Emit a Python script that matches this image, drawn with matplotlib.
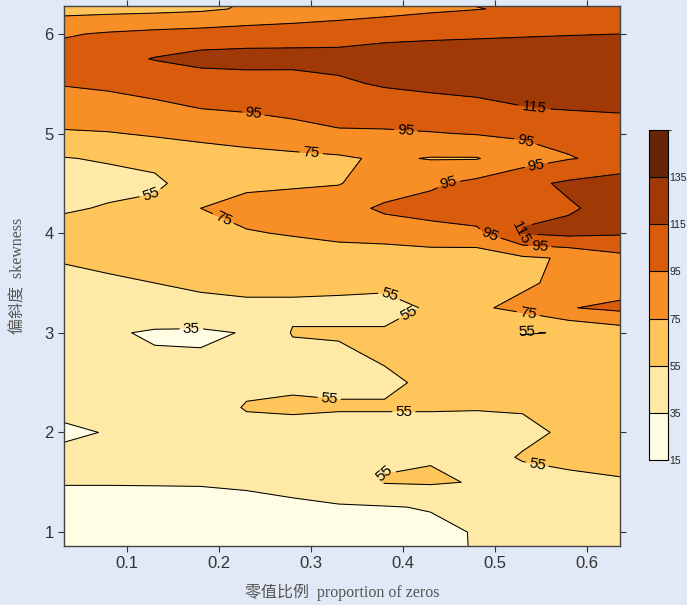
import numpy as np
import matplotlib
matplotlib.use('Agg')
import matplotlib.pyplot as plt
from matplotlib.colors import ListedColormap, BoundaryNorm

# --- 数据：网格坐标（零值比例 × 偏斜度）---
prop_zeros = [0.03, 0.08, 0.13, 0.18, 0.23, 0.28, 0.33, 0.38, 0.43, 0.48, 0.53, 0.58, 0.64]
skewness = [0.75, 1.0, 1.25, 1.5, 1.75, 2.0, 2.25, 2.5, 2.75, 3.0, 3.25, 3.5,
            3.75, 4.0, 4.25, 4.5, 4.75, 5.0, 5.25, 5.5, 5.75, 6.0, 6.25, 6.5]

# 每一行对应一个偏斜度（从下到上），每一列对应一个零值比例
value_grid = [
    [20, 21, 22, 23, 24, 25, 27, 28, 30, 36, 40, 42, 44],       # 0.75
    [22, 23, 24, 25, 26, 28, 29, 30, 31, 36, 40, 43, 45],       # 1.0
    [28, 28, 29, 30, 31, 32, 34, 34, 36, 37, 42, 45, 47],       # 1.25
    [36, 36, 36, 36, 37, 40, 42, 56, 57, 54, 50, 52, 54],       # 1.5
    [45, 45, 44, 44, 43, 43, 44, 53, 54, 50, 56, 58, 59],       # 1.75
    [28, 37, 44, 50, 50, 50, 50, 50, 50, 48, 52, 57, 60],       # 2.0
    [45, 46, 47, 48, 56, 57, 56, 56, 56, 56, 56, 60, 62],       # 2.25
    [46, 47, 48, 49, 52, 53, 53, 53, 57, 62, 64, 66, 68],       # 2.5
    [44, 44, 37, 37, 43, 50, 53, 56, 60, 64, 66, 68, 72],       # 2.75
    [42, 37, 33, 32, 36, 56, 56, 56, 57, 64, 54, 56, 65],       # 3.0
    [45, 46, 47, 50, 52, 52, 52, 52, 56, 72, 80, 94, 100],      # 3.25
    [48, 52, 55, 58, 59, 59, 58, 57, 58, 65, 72, 80, 85],       # 3.5
    [57, 60, 62, 64, 66, 68, 66, 62, 65, 64, 72, 77, 90],       # 3.75
    [65, 66, 67, 70, 74, 76, 80, 85, 88, 90, 116, 120, 117],    # 4.0
    [52, 57, 62, 75, 80, 82, 88, 98, 102, 108, 112, 113, 122],  # 4.25
    [45, 48, 50, 68, 72, 73, 74, 85, 92, 100, 110, 118, 125],   # 4.5
    [54, 57, 62, 66, 68, 70, 72, 78, 74, 74, 86, 94, 100],      # 4.75
    [73, 74, 77, 80, 84, 88, 93, 93, 94, 96, 98, 100, 102],     # 5.0
    [85, 88, 92, 95, 97, 100, 102, 104, 108, 110, 114, 116, 118],   # 5.25
    [96, 98, 100, 103, 105, 106, 112, 117, 119, 121, 123, 125, 126],  # 5.5
    [104, 108, 116, 122, 123, 122, 121, 124, 126, 127, 128, 129, 130],  # 5.75
    [93, 97, 100, 102, 104, 106, 108, 110, 111, 112, 113, 114, 115],  # 6.0
    [68, 69, 70, 72, 77, 80, 84, 88, 92, 94.5, 97, 99, 100],    # 6.25
    [60, 61, 63, 66, 72, 78, 84, 90, 96, 100, 104, 106, 108],   # 6.5
]

levels = [15, 35, 55, 75, 95, 115, 135, 155]
band_colors = ['#fffde4', '#feeaa6', '#fec65a', '#f88e26', '#d95b0c', '#a03905', '#662506']
cbar_ticks = [15, 35, 55, 75, 95, 115, 135]

x_ticks = [0.1, 0.2, 0.3, 0.4, 0.5, 0.6]
y_ticks = [1, 2, 3, 4, 5, 6]

# 等值线标注大致所在位置
label_spots = [(0.237, 5.17), (0.543, 5.29), (0.535, 4.97), (0.402, 4.86),
               (0.30, 4.78), (0.449, 4.53), (0.546, 4.63), (0.125, 4.43),
               (0.203, 4.11), (0.492, 3.92), (0.523, 4.00), (0.549, 3.91),
               (0.386, 3.40), (0.17, 3.03), (0.418, 3.00),
               (0.535, 3.13), (0.535, 3.03), (0.321, 2.46), (0.401, 2.21),
               (0.375, 1.66), (0.546, 1.69)]

bg_color = '#e0e9f5'
text_color = '#333333'

cmap = ListedColormap(band_colors)
norm = BoundaryNorm(levels, cmap.N)

X, Y = np.meshgrid(prop_zeros, skewness)
Z = np.array(value_grid, dtype=float)

fig = plt.figure(figsize=(6.87, 6.05), dpi=100, facecolor=bg_color)
ax = fig.add_axes([0.0932, 0.0975, 0.8093, 0.8926])

cf = ax.contourf(X, Y, Z, levels=levels, cmap=cmap, norm=norm)
cs = ax.contour(X, Y, Z, levels=levels, colors='black', linewidths=0.75)

ax.set_xlim(0.0315, 0.636)
ax.set_ylim(0.86, 6.28)

labels = ax.clabel(cs, fmt='%d', fontsize=11, inline=True, inline_spacing=2,
                   manual=label_spots)
for t in labels:
    t.set_fontfamily('Liberation Sans')

ax.set_xticks(x_ticks)
ax.set_yticks(y_ticks)
ax.set_xticklabels([f'{v:.1f}' for v in x_ticks], fontfamily='Liberation Sans', fontsize=12)
ax.set_yticklabels([str(v) for v in y_ticks], fontfamily='Liberation Sans', fontsize=12)
ax.tick_params(direction='out', length=4, width=0.8, colors=text_color)
ax.tick_params(which='both', top=True, right=True, labeltop=False, labelright=False)
for sp in ax.spines.values():
    sp.set_color('#444444')
    sp.set_linewidth(1.0)

label_font = ['Liberation Serif', 'Noto Sans CJK SC']
ax.set_xlabel('零值比例  proportion of zeros', family=label_font, fontsize=11.5,
              color='#555555', labelpad=9)
ax.set_ylabel('偏斜度  skewness', family=label_font, fontsize=11.5,
              color='#555555', labelpad=13)

# 色标
cax = fig.add_axes([0.9447, 0.2397, 0.0277, 0.5455])
cb = fig.colorbar(cf, cax=cax, ticks=cbar_ticks, drawedges=True)
cb.outline.set_linewidth(0.8)
cb.dividers.set_linewidth(0.8)
cb.ax.tick_params(length=0, pad=1, labelsize=7.5, colors='#222222')
for t in cb.ax.get_yticklabels():
    t.set_fontfamily('Liberation Sans')

fig.savefig('out.png', dpi=100, facecolor=bg_color)
